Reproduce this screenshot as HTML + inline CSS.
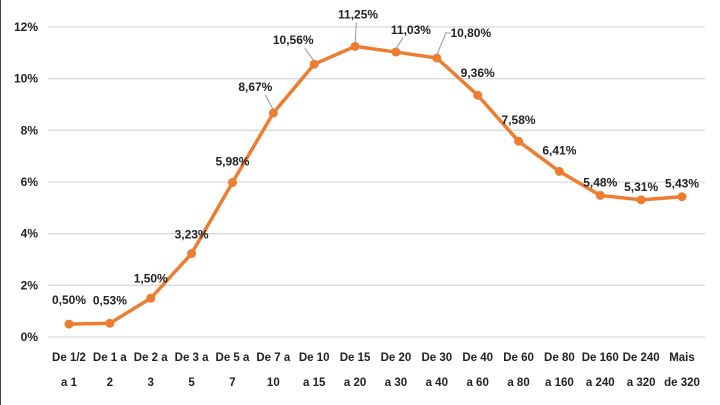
<!DOCTYPE html>
<html><head><meta charset="utf-8"><style>
html,body{margin:0;padding:0;background:#fff;}
svg{display:block;font-family:"Liberation Sans",sans-serif;}
</style></head><body>
<svg id="chart" width="720" height="405" viewBox="0 0 720 405">
<rect width="720" height="405" fill="#fff"/>
<line x1="0.5" y1="0" x2="0.5" y2="405" stroke="#444" stroke-width="1"/>
<g id="grid"></g><g id="xlabels"></g><g id="ylabels"></g><g id="series"></g><g id="dlabels"></g>
</svg>
<script>
const categories = [["De 1/2","a 1"],["De 1 a","2"],["De 2 a","3"],["De 3 a","5"],["De 5 a","7"],["De 7 a","10"],["De 10","a 15"],["De 15","a 20"],["De 20","a 30"],["De 30","a 40"],["De 40","a 60"],["De 60","a 80"],["De 80","a 160"],["De 160","a 240"],["De 240","a 320"],["Mais","de 320"]];
const values = [0.50,0.53,1.50,3.23,5.98,8.67,10.56,11.25,11.03,10.80,9.36,7.58,6.41,5.48,5.31,5.43];
const valueLabels = ["0,50%","0,53%","1,50%","3,23%","5,98%","8,67%","10,56%","11,25%","11,03%","10,80%","9,36%","7,58%","6,41%","5,48%","5,31%","5,43%"];
const yTicks = [0,2,4,6,8,10,12];
const yTickLabels = ["0%","2%","4%","6%","8%","10%","12%"];

const NS="http://www.w3.org/2000/svg";
const x0=69, x1=682, yBase=337, yTop=27, yMax=12;
function xs(i){return x0+(x1-x0)*i/(categories.length-1);}
function ys(v){return yBase-(yBase-yTop)*v/yMax;}
function mk(tag,attrs,parent,text){const e=document.createElementNS(NS,tag);for(const k in attrs)e.setAttribute(k,attrs[k]);if(text!==undefined)e.textContent=text;parent.appendChild(e);return e;}
const grid=document.getElementById('grid'),yl=document.getElementById('ylabels'),xl=document.getElementById('xlabels'),ser=document.getElementById('series'),dl=document.getElementById('dlabels');

yTicks.forEach((t,i)=>{
  const g=mk('line',{x1:48,x2:705,y1:ys(t),y2:ys(t),stroke:'#d9d9d9','stroke-width':1.3},grid);
  
  
  const l=mk('text',{x:38,y:ys(t)+4,'text-anchor':'end','font-size':12,fill:'#222','font-weight':'bold'},yl,yTickLabels[i]);
  
  
});
categories.forEach((c,i)=>{
  const t=mk('text',{'text-anchor':'middle','font-size':11.5,fill:'#222','font-weight':'bold'},xl);
  
  
  mk('tspan',{x:xs(i),y:361},t,c[0]);
  mk('tspan',{x:xs(i),y:386},t,c[1]);
});
const pts=values.map((v,i)=>xs(i)+','+ys(v)).join(' ');
const line=mk('polyline',{points:pts,fill:'none',stroke:'#ED7D31','stroke-width':3.5,'stroke-linejoin':'round'},ser);


// label offsets (layout only)
const off=[[0,-24],[0,-23],[0,-20],[0,-19],[0,-21],[-18,-26,1],[-21,-24,1],[3,-32,1],[15,-22,1],[34,-25,2],[0,-22],[0,-21],[0,-21],[0,-13],[0,-13],[0,-13]];
values.forEach((v,i)=>{
  const px=xs(i),py=ys(v);
  const m=mk('circle',{cx:px,cy:py,r:4.5,fill:'#ED7D31'},ser);
  
  
  const o=off[i];
  if(o[2]===1){
    const ld=mk('line',{x1:px+o[0]*0.45,y1:py+o[1]+8,x2:px,y2:py-3,stroke:'#999','stroke-width':1},dl);
    
    
  } else if(o[2]===2){
    const ld=mk('polyline',{points:(px+o[0]-20)+','+(py+o[1])+' '+(px+o[0]-25)+','+(py+o[1])+' '+px+','+(py-3),fill:'none',stroke:'#999','stroke-width':1},dl);
    
    
  }
  const t=mk('text',{x:px+o[0],y:py+o[1]+4,'text-anchor':'middle','font-size':12,fill:'#222','font-weight':'bold'},dl,valueLabels[i]);
  
  
});
</script>
</body></html>
